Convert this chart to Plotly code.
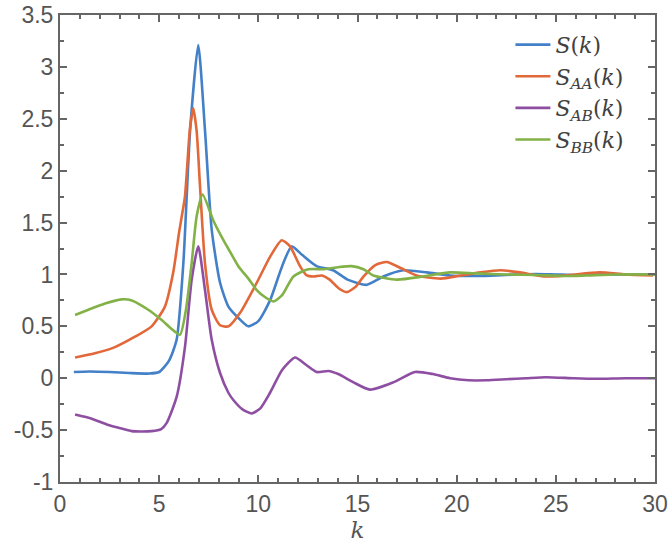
import plotly.graph_objects as go

# S(k)
k_s = [0.7, 1.5, 2.5, 3.5, 4.5, 5.0, 5.5, 5.88, 6.22, 6.56, 6.97, 7.31, 7.65, 8.07, 8.49, 9.0, 9.5, 10.0,
       10.59, 11.2, 11.68, 12.2, 12.94, 13.77, 14.5, 15.47, 16.3, 17.3, 18.5, 19.67, 21, 22, 23, 24, 25,
       26, 27, 28, 29, 30]
s_s = [0.06, 0.065, 0.06, 0.05, 0.045, 0.06, 0.17, 0.37, 1.11, 2.39, 3.21, 2.39, 1.43, 0.92, 0.69, 0.58,
       0.50, 0.55, 0.75, 1.08, 1.27, 1.19, 1.08, 1.04, 0.95, 0.90, 0.98, 1.04, 1.02, 0.99, 0.985, 0.99,
       1.0, 1.005, 1.0, 0.995, 1.0, 1.0, 1.0, 1.0]

# S_AA(k)
k_aa = [0.76, 1.76, 2.77, 3.78, 4.62, 5.29, 5.71, 6.0, 6.14, 6.3, 6.55, 6.72, 6.89, 7.06, 7.31, 7.65, 8.07,
        8.5, 9.08, 9.92, 10.59, 11.18, 11.6, 12.1, 12.44, 12.8, 13.2, 13.6, 14.03, 14.46, 14.9, 15.3, 15.9,
        16.47, 17.2, 17.98, 19.2, 20.2, 21.2, 22.2, 23.2, 24.4, 25.5, 27.2, 28.5, 29.9]
s_aa = [0.20, 0.24, 0.30, 0.40, 0.50, 0.69, 1.02, 1.40, 1.56, 1.75, 2.40, 2.60, 2.38, 1.85, 1.11, 0.66,
        0.51, 0.50, 0.63, 0.92, 1.17, 1.33, 1.27, 1.08, 0.99, 0.98, 0.99, 0.95, 0.87, 0.83, 0.88, 0.98,
        1.09, 1.12, 1.06, 0.99, 0.96, 0.99, 1.02, 1.04, 1.02, 0.98, 0.99, 1.02, 1.0, 0.99]

# S_AB(k)
k_ab = [0.76, 1.6, 2.44, 3.0, 3.62, 4.62, 5.1, 5.38, 5.88, 6.3, 6.64, 6.97, 7.31, 7.65, 8.07, 8.49, 8.74,
        9.2, 9.67, 10.1, 10.59, 11.2, 11.85, 12.4, 12.94, 13.53, 14.03, 14.8, 15.63, 16.8, 17.9, 18.8,
        19.67, 20.6, 21.5, 22.5, 23.5, 24.5, 25.9, 27, 28.5, 30]
s_ab = [-0.35, -0.39, -0.45, -0.48, -0.51, -0.51, -0.49, -0.43, -0.18, 0.30, 0.95, 1.27, 0.85, 0.37, 0.05,
        -0.14, -0.21, -0.30, -0.34, -0.29, -0.14, 0.08, 0.20, 0.13, 0.06, 0.07, 0.04, -0.04, -0.11, -0.04,
        0.06, 0.04, 0.0, -0.02, -0.02, -0.01, 0.0, 0.01, 0.0, -0.005, 0.0, 0.0]

# S_BB(k)
k_bb = [0.76, 1.43, 2.27, 3.11, 3.62, 4.45, 5.13, 5.6, 6.05, 6.35, 6.64, 6.89, 7.19, 7.73, 8.24, 8.57,
        8.99, 9.5, 9.92, 10.35, 10.76, 11.2, 11.77, 12.52, 13.3, 14.03, 14.7, 15.3, 15.8, 16.98, 18.3,
        19.67, 21, 22.5, 24, 25.5, 26.5, 28, 30]
s_bb = [0.61, 0.66, 0.72, 0.76, 0.75, 0.66, 0.56, 0.48, 0.42, 0.66, 1.11, 1.56, 1.77, 1.52, 1.33, 1.22,
        1.08, 0.96, 0.85, 0.78, 0.74, 0.80, 0.98, 1.05, 1.05, 1.07, 1.08, 1.05, 0.99, 0.95, 0.98, 1.02,
        1.01, 1.0, 0.995, 0.985, 0.99, 1.0, 1.0]

names = ["<i>S</i>(<i>k</i>)", "<i>S</i><sub><i>AA</i></sub>(<i>k</i>)",
         "<i>S</i><sub><i>AB</i></sub>(<i>k</i>)", "<i>S</i><sub><i>BB</i></sub>(<i>k</i>)"]
colors = ["#4480C8", "#E2683A", "#8E4FA2", "#82B247"]
series = [(k_s, s_s), (k_aa, s_aa), (k_ab, s_ab), (k_bb, s_bb)]

fig = go.Figure()
for (xs, ys), nm, c in zip(series, names, colors):
    fig.add_trace(go.Scatter(x=xs, y=ys, mode="lines", name=nm,
                             line=dict(color=c, width=2.6, shape="spline", smoothing=0.6)))

axcol = "#666666"
tickfont = dict(family="Liberation Sans, Arial, sans-serif", size=23, color="#555555")
serif = "DejaVu Serif, Liberation Serif, serif"
fig.update_layout(
    width=668, height=547,
    margin=dict(l=60, r=13, t=15, b=65),
    plot_bgcolor="white", paper_bgcolor="white",
    showlegend=True,
    legend=dict(x=0.757, y=0.981, xanchor="left", yanchor="top", bgcolor="rgba(0,0,0,0)",
                font=dict(family=serif, size=22, color="#404040"),
                itemwidth=35, tracegroupgap=0),
    xaxis=dict(range=[0, 30], tickvals=[0, 5, 10, 15, 20, 25, 30], showgrid=False, zeroline=False,
               automargin=False, ticklabeloverflow="allow",
               showline=True, linecolor=axcol, linewidth=2, mirror="ticks",
               ticks="inside", ticklen=7, tickwidth=2, tickcolor=axcol, tickfont=tickfont,
               minor=dict(dtick=1, ticks="inside", ticklen=4, tickwidth=2, tickcolor=axcol),
               title=dict(text="<i>k</i>", font=dict(family=serif, size=23, color="#555555"),
                          standoff=5)),
    yaxis=dict(range=[-1, 3.5], tickvals=[-1, -0.5, 0, 0.5, 1, 1.5, 2, 2.5, 3, 3.5],
               ticktext=["-1", "-0.5", "0", "0.5", "1", "1.5", "2", "2.5", "3", "3.5"],
               showgrid=False, zeroline=False, automargin=False, ticklabeloverflow="allow",
               showline=True, linecolor=axcol, linewidth=2, mirror="ticks",
               ticks="inside", ticklen=7, tickwidth=2, tickcolor=axcol, tickfont=tickfont,
               minor=dict(dtick=0.25, ticks="inside", ticklen=4, tickwidth=2, tickcolor=axcol)),
)
# remove the page's default 8px body margin so the 668x547 figure fills the window exactly
fig.write_html("out.html", config={"displayModeBar": False},
               post_script="document.body.style.margin='0';document.body.style.overflow='hidden';")
